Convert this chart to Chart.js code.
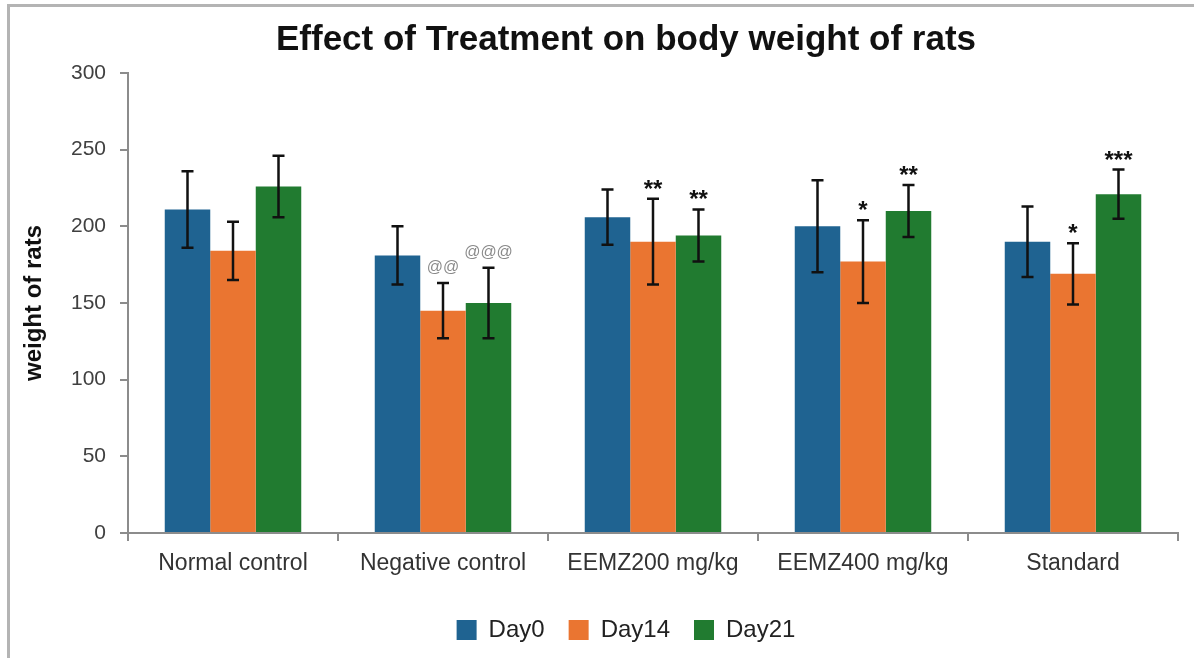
<!DOCTYPE html>
<html>
<head>
<meta charset="utf-8">
<script src="https://cdn.jsdelivr.net/npm/chart.js@4/dist/chart.umd.min.js"></script>
<style>
  html, body { margin: 0; padding: 0; background: #fff; overflow: hidden; width: 1194px; height: 658px; }
  #frame { position: absolute; left: 7px; top: 4px; width: 1400px; height: 900px; border: 3px solid #b4b4b4; }
  #chart { position: absolute; left: 0; top: 0; }
</style>
</head>
<body>
<div id="frame"></div>
<canvas id="chart" width="1250" height="658"></canvas>
<script>
"use strict";

var groups = ['Normal control', 'Negative control', 'EEMZ200 mg/kg', 'EEMZ400 mg/kg', 'Standard'];
var seriesNames = ['Day0', 'Day14', 'Day21'];
var day0 = [211, 181, 206, 200, 190];
var day14 = [184, 145, 190, 177, 169];
var day21 = [226, 150, 194, 210, 221];
var sd0 = [25, 19, 18, 30, 23];
var sd14 = [19, 18, 28, 27, 20];
var sd21 = [20, 23, 17, 17, 16];
var marks0 = ['', '', '', '', ''];
var marks14 = ['', '@@', '**', '*', '*'];
var marks21 = ['', '@@@', '**', '**', '***'];
var yTicks = [0, 50, 100, 150, 200, 250, 300];

var colors = ['#1f6391', '#ea7531', '#217b30'];
var errors = [sd0, sd14, sd21];
var marks = [marks0, marks14, marks21];

// error bars and significance marks, placed through the y scale
var errorBarPlugin = {
    id: 'errorBars',
    afterDatasetsDraw: function (chart) {
        var ctx = chart.ctx;
        var yScale = chart.scales.y;
        chart.data.datasets.forEach(function (ds, di) {
            var meta = chart.getDatasetMeta(di);
            meta.data.forEach(function (bar, i) {
                var v = ds.data[i];
                var e = errors[di][i];
                var yTop = yScale.getPixelForValue(v + e);
                var yBot = yScale.getPixelForValue(v - e);
                ctx.save();
                ctx.strokeStyle = '#111';
                ctx.lineWidth = 2.5;
                ctx.beginPath();
                ctx.moveTo(bar.x, yTop);
                ctx.lineTo(bar.x, yBot);
                ctx.moveTo(bar.x - 6, yTop);
                ctx.lineTo(bar.x + 6, yTop);
                ctx.moveTo(bar.x - 6, yBot);
                ctx.lineTo(bar.x + 6, yBot);
                ctx.stroke();

                var m = marks[di][i];
                if (m) {
                    ctx.textAlign = 'center';
                    ctx.textBaseline = 'alphabetic';
                    if (m.charAt(0) === '@') {
                        ctx.font = '16px "Liberation Sans", Arial, sans-serif';
                        ctx.fillStyle = '#8a8a8a';
                        ctx.fillText(m, bar.x, yTop - 11);
                    } else {
                        ctx.font = 'bold 24px "Liberation Sans", Arial, sans-serif';
                        ctx.fillStyle = '#111';
                        ctx.fillText(m, bar.x, yTop - 2);
                    }
                }
                ctx.restore();
            });
        });
    }
};

var series = [day0, day14, day21];
var datasets = series.map(function (d, i) {
    return {
        label: seriesNames[i],
        data: d,
        backgroundColor: colors[i],
        borderWidth: 0,
        categoryPercentage: 0.65,
        barPercentage: 1.0
    };
});

new Chart(document.getElementById('chart'), {
    type: 'bar',
    data: { labels: groups, datasets: datasets },
    plugins: [errorBarPlugin],
    options: {
        responsive: false,
        devicePixelRatio: 1,
        animation: false,
        layout: { padding: { left: 8, right: 6, top: 0, bottom: 6 } },
        plugins: {
            title: {
                display: true,
                text: 'Effect of Treatment on body weight of rats',
                color: '#111',
                font: { family: '"Liberation Sans", Arial, sans-serif', size: 35, weight: 'bold', lineHeight: 1.2 },
                padding: { top: 19, bottom: 12 }
            },
            legend: {
                position: 'bottom',
                labels: {
                    color: '#222',
                    font: { family: '"Liberation Sans", Arial, sans-serif', size: 24 },
                    boxWidth: 20,
                    boxHeight: 20,
                    padding: 24
                }
            },
            tooltip: { enabled: false }
        },
        scales: {
            x: {
                grid: { offset: true, drawOnChartArea: false, drawTicks: true, tickLength: 8, color: '#8c8c8c', lineWidth: 2 },
                border: { display: true, color: '#8c8c8c', width: 2 },
                ticks: {
                    color: '#333',
                    padding: 9,
                    font: { family: '"Liberation Sans", Arial, sans-serif', size: 23 }
                },
                afterFit: function (scale) { scale.height = 61; }
            },
            y: {
                min: 0,
                max: 300,
                afterBuildTicks: function (scale) {
                    scale.ticks = yTicks.map(function (v) { return { value: v }; });
                },
                grid: { drawOnChartArea: false, drawTicks: true, tickLength: 8, color: '#8c8c8c', lineWidth: 2 },
                border: { display: true, color: '#8c8c8c', width: 2 },
                ticks: {
                    color: '#404040',
                    padding: 14,
                    font: { family: '"Liberation Sans", Arial, sans-serif', size: 21 }
                },
                title: {
                    display: true,
                    text: 'weight of rats',
                    color: '#111',
                    padding: { top: 12, bottom: 0 },
                    font: { family: '"Liberation Sans", Arial, sans-serif', size: 24, weight: 'bold', lineHeight: 1.2 }
                },
                afterFit: function (scale) { scale.width = 120; }
            },
            spare: {
                type: 'linear',
                position: 'right',
                display: true,
                grid: { display: false },
                border: { display: false },
                ticks: { display: false },
                afterFit: function (scale) { scale.width = 66; }
            }
        }
    }
});
</script>
</body>
</html>
